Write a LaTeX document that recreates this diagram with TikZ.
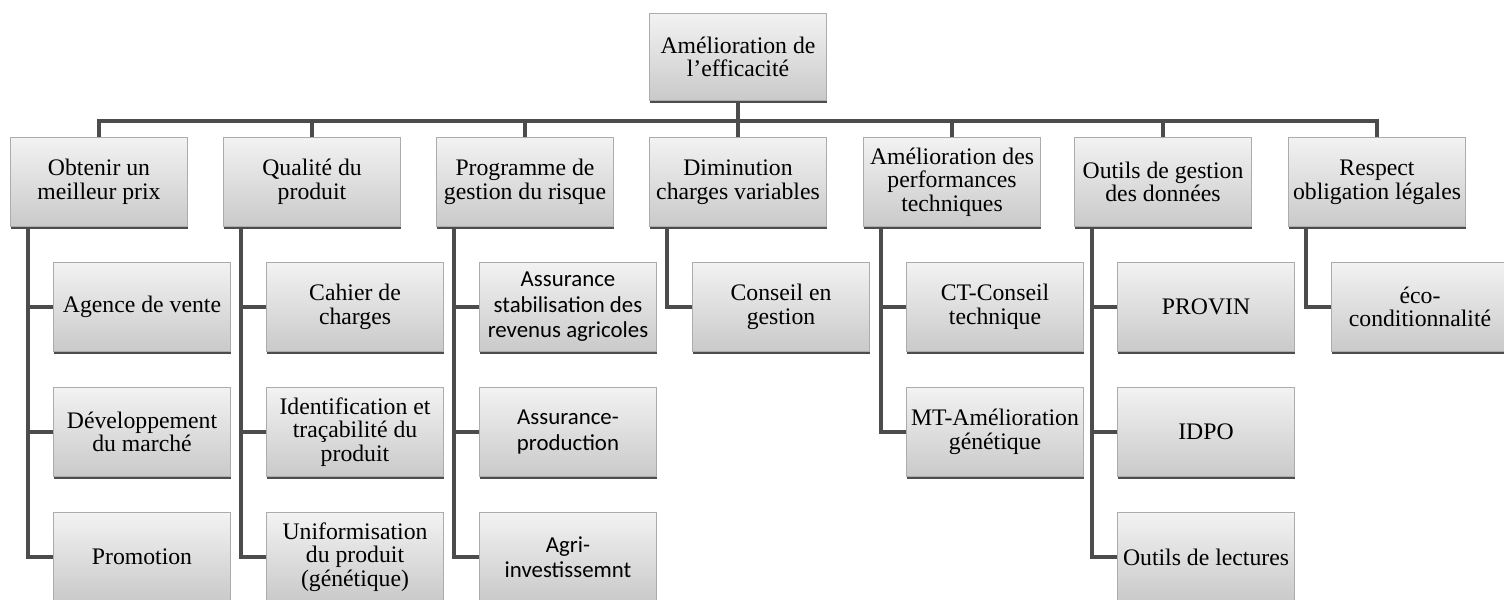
\documentclass[tikz,border=0pt]{standalone}
\usepackage{fontspec}
\setmainfont{Liberation Serif}
\newfontfamily\calib{Carlito}
\usetikzlibrary{shadows}

\begin{document}
\begin{tikzpicture}[x=0.02cm, y=-0.02cm,
	box/.style={draw=gray!65, top color=gray!10, bottom color=gray!42, minimum width=3.54cm, minimum height=1.78cm, inner sep=1pt, align=center, font=\fontsize{13.5}{13.5}\selectfont, drop shadow={shadow xshift=0.4pt, shadow yshift=-1.3pt, fill=black!70, opacity=1}},
	sbox/.style={box, font=\calib\fontsize{13}{14.5}\selectfont},
	link/.style={draw=black!70, line width=2pt}]
	\useasboundingbox (0,0) rectangle (1504,599);
	% top of the tree
	\node [box, minimum height=1.74cm] (0) at (738, 57) {Amélioration de\\ l'efficacité};
	\node [box] (1) at (99, 182) {Obtenir un\\ meilleur prix};
	\node [box] (2) at (312, 182) {Qualité du\\ produit};
	\node [box] (3) at (525, 182) {Programme de\\ gestion du risque};
	\node [box] (4) at (738, 182) {Diminution\\ charges variables};
	\node [box] (5) at (952, 182) {Amélioration des\\ performances\\ techniques};
	\node [box] (6) at (1163, 182) {Outils de gestion\\ des données};
	\node [box] (7) at (1377, 182) {Respect\\ obligation légales};
	% sub-items
	\node [box] (11) at (142, 307) {Agence de vente};
	\node [box] (12) at (142, 432) {Développement\\ du marché};
	\node [box] (13) at (142, 557) {Promotion};
	\node [box] (21) at (355, 307) {Cahier de\\ charges};
	\node [box] (22) at (355, 432) {Identification et\\ traçabilité du\\ produit};
	\node [box] (23) at (355, 557) {Uniformisation\\ du produit\\ (génétique)};
	\node [sbox] (31) at (568, 307) {Assurance\\ stabilisation des\\ revenus agricoles};
	\node [sbox] (32) at (568, 432) {Assurance-\\ production};
	\node [sbox] (33) at (568, 557) {Agri-\\ investissemnt};
	\node [box] (41) at (781, 307) {Conseil en\\ gestion};
	\node [box] (51) at (995, 307) {CT-Conseil\\ technique};
	\node [box] (52) at (995, 432) {MT-Amélioration\\ génétique};
	\node [box] (61) at (1206, 307) {PROVIN};
	\node [box] (62) at (1206, 432) {IDPO};
	\node [box] (63) at (1206, 557) {Outils de lectures};
	\node [box] (71) at (1420, 307) {éco-\\ conditionnalité};
	% connectors
	\coordinate (bus) at (738, 121);
	\draw [link] (0) -- (bus);
	\draw [link] (1) |- (bus) -| (7);
	\foreach \i in {2,...,6}
		\draw [link] (\i) -- (\i.north |- bus);
	\foreach \p/\c in {1/11,1/12,1/13,2/21,2/22,2/23,3/31,3/32,3/33,4/41,5/51,5/52,6/61,6/62,6/63,7/71}
		\draw [link] ([xshift=0.36cm]\p.south west) |- (\c.west);
\end{tikzpicture}
\end{document}
